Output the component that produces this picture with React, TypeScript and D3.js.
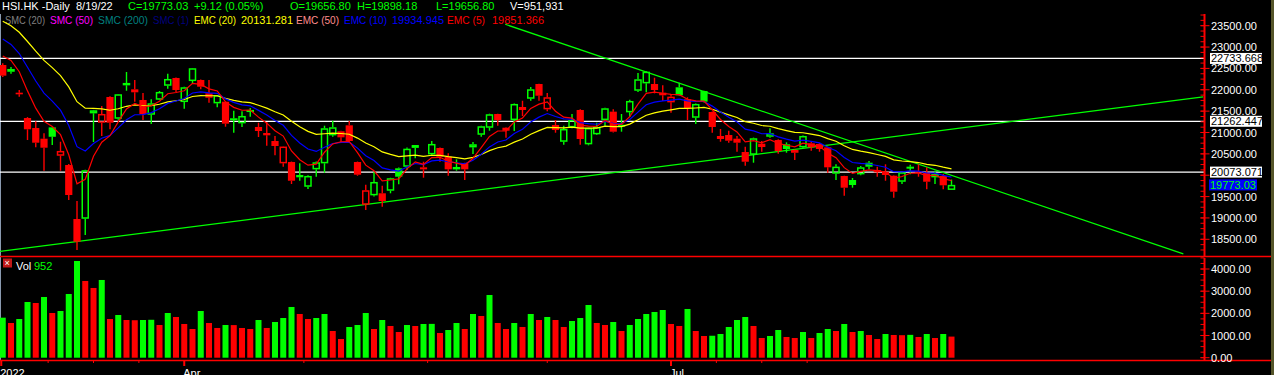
import React from 'react'
import * as d3 from 'd3'

const width = 1274
const height = 375
const GREEN = '#00ff00'
const RED = '#ff0000'
const FONT = '"Liberation Sans", Arial, sans-serif'

// daily HSI bars, 2 Mar 2022 .. 19 Aug 2022
const priorClose = 22761
const opens = [22580, 22423, 21932, 21339, 21105, 20855, 21120, 20457, 20239, 18975, 18982, 21449, 21229, 21831, 21323, 22105, 22011, 21761, 21417, 21768, 22095, 22276, 21714, 22205, 22229, 21917, 21683, 21721, 21309, 21215, 21480, 21129, 20988, 20801, 20279, 20309, 20005, 19731, 20138, 20279, 20934, 21028, 21168, 20309, 19310, 19530, 19577, 19638, 20162, 20199, 20707, 20185, 20489, 20637, 20433, 20138, 20279, 20653, 20948, 21112, 21433, 21112, 21292, 21597, 21791, 22135, 21543, 21175, 20784, 21121, 21527, 20724, 20958, 21292, 21488, 21150, 21473, 21978, 22151, 22135, 21932, 21707, 22058, 21777, 21346, 21971, 21480, 20918, 20941, 20855, 20543, 20480, 20738, 20902, 20824, 20724, 20527, 20653, 20747, 20731, 20653, 20036, 19982, 19888, 20021, 20293, 20122, 20082, 19988, 19848, 20176, 20099, 20059, 19951, 19982, 19656.8]
const highs = [22620, 22533, 21995, 21360, 21262, 20981, 21130, 20784, 20260, 19397, 20130, 21530, 21620, 21850, 21900, 22416, 22229, 21924, 21777, 21971, 22376, 22290, 22070, 22510, 22240, 22229, 21880, 21730, 21510, 21496, 21573, 21230, 21246, 20918, 20680, 20320, 20279, 20000, 20320, 21159, 21276, 21040, 21269, 20320, 19778, 20075, 19755, 19940, 20180, 20650, 20710, 20316, 20801, 20650, 20513, 20372, 20290, 20777, 21160, 21440, 21440, 21120, 21680, 21744, 22065, 22140, 21924, 21292, 21159, 21433, 21543, 21110, 21230, 21580, 21543, 21433, 21768, 22393, 22440, 22283, 22105, 21901, 22166, 21824, 21680, 21980, 21490, 21082, 21042, 20918, 20668, 20880, 20801, 21098, 20840, 20770, 20600, 20930, 20777, 20750, 20670, 20255, 19990, 19935, 20216, 20333, 20199, 20255, 20000, 20080, 20246, 20255, 20185, 20106, 20028, 19898.18]
const lows = [22300, 22376, 21838, 20824, 20653, 20106, 20707, 20106, 19420, 18249, 18600, 20777, 20918, 21075, 21300, 21978, 21721, 21292, 21199, 21761, 22025, 21948, 21557, 22142, 22011, 21697, 21589, 21136, 20995, 21129, 21370, 20895, 20691, 20466, 20199, 19794, 19871, 19677, 19966, 20059, 20900, 20777, 20790, 19988, 19186, 19500, 19263, 19577, 19788, 20122, 20400, 19942, 20460, 20316, 19988, 20106, 19888, 20497, 20902, 21042, 21159, 20878, 21035, 21386, 21744, 21744, 21496, 20995, 20715, 21100, 20715, 20700, 20940, 21159, 21000, 21019, 21370, 21950, 21941, 21917, 21737, 21463, 21860, 21292, 21199, 21700, 20995, 20784, 20761, 20550, 20222, 20293, 20550, 20880, 20500, 20527, 20356, 20630, 20574, 20550, 20059, 19888, 19520, 19708, 20000, 20138, 19965, 19871, 19473, 19794, 20021, 19965, 19670, 19794, 19670, 19656.8]
const closes = [22330, 22486, 21894, 21075, 20761, 20644, 20900, 20567, 19537, 18443, 20115, 21519, 21433, 21229, 21894, 22159, 21941, 21433, 21683, 21948, 22252, 21995, 22058, 22503, 22072, 21814, 21871, 21206, 21332, 21386, 21527, 21035, 20934, 20684, 20670, 19871, 19951, 19982, 20302, 21098, 21121, 20887, 20801, 20012, 19647, 19841, 19396, 19928, 19965, 20620, 20640, 20138, 20731, 20433, 20138, 20192, 20138, 20724, 21145, 21426, 21292, 21042, 21667, 21527, 22011, 21861, 21824, 21058, 21082, 21292, 20848, 21105, 21129, 21566, 21019, 21180, 21737, 22245, 22423, 21995, 21871, 21838, 21871, 21566, 21667, 21721, 21129, 20848, 20808, 20761, 20316, 20864, 20660, 20981, 20567, 20614, 20590, 20918, 20653, 20614, 20185, 20200, 19708, 19771, 20185, 20199, 20068, 20005, 19614, 20068, 20199, 20075, 19848, 20028, 19764, 19773.03]
const volumes = [1805, 1565, 1745, 2512, 2467, 2738, 2016, 2106, 2873, 4362, 3460, 3144, 3505, 1745, 1926, 1700, 1690, 1700, 1710, 1475, 2016, 1836, 1520, 1294, 2106, 1565, 1340, 1475, 1470, 1340, 1294, 1700, 1340, 1610, 1790, 2287, 1971, 1745, 1790, 1971, 1204, 843, 1385, 1475, 2016, 1294, 1700, 1430, 1159, 1475, 1430, 1520, 1525, 1114, 1249, 1565, 1294, 1971, 1881, 2828, 1565, 1294, 1565, 1385, 1971, 1700, 1836, 1700, 1385, 1655, 1790, 2377, 1565, 1475, 1610, 1204, 1475, 1745, 1971, 2061, 2151, 1520, 1430, 2197, 1204, 979, 990, 1069, 1385, 1700, 1836, 1430, 889, 979, 1249, 934, 889, 1159, 889, 1114, 1294, 1204, 1520, 1159, 1204, 1024, 843, 1069, 1024, 1015, 1030, 934, 1069, 889, 1069, 952]

// moving averages: periods and their value just before the first bar
const emaPeriods = [20, 10, 5]
const emaSeeds = [23740, 23381, 23020]

const priceLevels = [22733.668, 21262.447, 20073.071]
const lastPrice = 19773.03
const supportLine = [[-0.33, 18215], [145.5, 21835]]
const resistLine = [[60.9, 23533], [143.1, 18160]]

const priceTicks = d3.range(18500, 23501, 500)
const volTicks = [0, 1000, 2000, 3000, 4000]
const timeMinor = [5.5, 11, 16.5, 36.5, 51.5, 66, 86.5, 92, 97.5]
const timeMajor = [-0.18, 22, 81]
const timeLabels = ['2022', 'Apr', 'Jul']

function ema(values: number[], period: number, seed: number) {
  const k = 2 / (period + 1)
  let prev = seed
  return values.map((v) => {
    prev = prev + k * (v - prev)
    return prev
  })
}

const x = d3.scaleLinear().domain([0, 1]).range([2.75, 11])
const y = d3.scaleLinear().domain([18500, 23500]).range([239.3, 25.7])
const yv = d3.scaleLinear().domain([0, 4000]).range([357.7, 269])

const emaColors = ['#ffff00', '#0000ff', '#ff0000']

// header rows: text, x, colour, squeezed width (0 = natural)
const header1 = [
  ['HSI.HK -Daily', 2, '#fff', 0],
  ['8/19/22', 76, '#fff', 0],
  ['C=19773.03', 128, GREEN, 0],
  ['+9.12 (0.05%)', 194, GREEN, 0],
  ['O=19656.80', 290, GREEN, 0],
  ['H=19898.18', 357, GREEN, 0],
  ['L=19656.80', 436, GREEN, 0],
  ['V=951,931', 510, '#fff', 0],
]
const header2 = [
  ['SMC (20)', 5, '#808080', 40],
  ['SMC (50)', 50, '#ff00ff', 43],
  ['SMC (200)', 98, '#008080', 50],
  ['SMC (1)', 153, '#000080', 36],
  ['EMC (20)', 194, '#ffff00', 42],
  ['20131.281', 241, '#ffff00', 0],
  ['EMC (50)', 296, '#ff8c8c', 43],
  ['EMC (10)', 344, '#0000ff', 43],
  ['19934.945', 392, '#0000ff', 0],
  ['EMC (5)', 447, '#ff0000', 38],
  ['19851.366', 492, '#ff0000', 0],
]

export default function App() {
  const emaLines = emaPeriods.map((p, j) => {
    const vals = ema(closes, p, emaSeeds[j])
    const line = d3
      .line<number>()
      .x((d, i) => x(i))
      .y((d) => y(d))
    return line(vals)
  })

  const axisX = 1204.5
  const fmt = d3.format('.2f')
  // labels hidden behind a level box are not drawn
  const hidden = (v: number) => priceLevels.concat([lastPrice]).some((l) => Math.abs(y(l) - y(v)) < 5)

  const headerRow = (rows: (string | number)[][], ty: number) =>
    rows.map(([t, tx, c, w]) => (
      <text
        key={t as string}
        x={tx as number}
        y={ty}
        fill={c as string}
        textLength={w ? (w as number) : undefined}
        lengthAdjust={w ? 'spacingAndGlyphs' : undefined}
      >
        {t}
      </text>
    ))

  return (
    <svg
      width={width}
      height={height}
      style={{ position: 'absolute', left: 0, top: 0, background: '#000' }}
      fontFamily={FONT}
      fontSize={11}
    >
      <rect x={0} y={0} width={width} height={height} fill="#000" />
      <rect x={1271} y={0} width={3} height={height} fill="#55552a" />
      <line x1={0.5} x2={0.5} y1={14} y2={360} stroke="#8a9ab0" />

      {/* header */}
      <g>
        {headerRow(header1, 10)}
        {headerRow(header2, 24)}
      </g>

      {/* horizontal price levels */}
      {priceLevels.map((v) => (
        <line key={v} x1={0} x2={axisX} y1={y(v)} y2={y(v)} stroke="#fff" strokeWidth={1.3} />
      ))}

      {/* trend lines */}
      {[supportLine, resistLine].map((ln, i) => (
        <line
          key={i}
          x1={x(ln[0][0])}
          y1={y(ln[0][1])}
          x2={x(ln[1][0])}
          y2={y(ln[1][1])}
          stroke={GREEN}
          strokeWidth={1.2}
        />
      ))}

      {/* candles */}
      {opens.map((o, i) => {
        const c = closes[i]
        const prev = i === 0 ? priorClose : closes[i - 1]
        const col = c >= prev ? GREEN : RED
        const hollow = c > o
        const top = y(Math.max(o, c))
        const bot = y(Math.min(o, c))
        const cx = x(i)
        return (
          <g key={i}>
            <line x1={cx} x2={cx} y1={y(highs[i])} y2={top} stroke={col} strokeWidth={1.4} />
            <line x1={cx} x2={cx} y1={bot} y2={y(lows[i])} stroke={col} strokeWidth={1.4} />
            {hollow ? (
              <rect
                x={cx - 3}
                y={top + 0.7}
                width={6}
                height={Math.max(bot - top - 1.4, 0.5)}
                fill="none"
                stroke={col}
                strokeWidth={1.5}
              />
            ) : (
              <rect x={cx - 3.6} y={top} width={7.2} height={Math.max(bot - top, 1.5)} fill={col} />
            )}
          </g>
        )
      })}

      {/* moving averages */}
      {emaLines.map((d, j) => (
        <path key={j} d={d || ''} fill="none" stroke={emaColors[j]} strokeWidth={1.2} />
      ))}

      {/* volume */}
      {volumes.map((v, i) => {
        const up = i === 0 || v > volumes[i - 1]
        return (
          <rect
            key={i}
            x={x(i) - 3}
            y={yv(v)}
            width={6}
            height={yv(0) - yv(v)}
            fill={up ? GREEN : RED}
          />
        )
      })}
      <rect x={3} y={258.5} width={9} height={9} fill="#c01818" />
      <text x={4.5} y={266} fontSize={9} fill="#fff">×</text>
      <text x={16} y={270} fill="#fff">Vol</text>
      <text x={34} y={270} fill={GREEN}>{d3.format('d')(volumes[volumes.length - 1])}</text>

      {/* panel frames */}
      <line x1={0} x2={1271} y1={256.5} y2={256.5} stroke={RED} strokeWidth={1.5} />
      <line x1={0} x2={1271} y1={360.5} y2={360.5} stroke={RED} strokeWidth={1.5} />
      <line x1={axisX} x2={axisX} y1={14} y2={256} stroke={RED} strokeWidth={2} />
      <line x1={axisX} x2={axisX} y1={258} y2={360} stroke={RED} strokeWidth={2} />

      {/* price axis */}
      {d3.range(18250, 23751, 125).map((v) => (
        <line key={v} x1={axisX - 4} x2={axisX} y1={y(v)} y2={y(v)} stroke={RED} />
      ))}
      {priceTicks.map((v) => (
        <g key={v}>
          <line x1={axisX - 4} x2={axisX + 5} y1={y(v)} y2={y(v)} stroke={RED} />
          {!hidden(v) && (
            <text x={1211} y={y(v) + 4} fill="#fff">{fmt(v)}</text>
          )}
        </g>
      ))}
      {priceLevels.map((v) => (
        <g key={v}>
          <rect x={1210} y={y(v) - 5.5} width={52} height={11} fill="#fff" />
          <text x={1211} y={y(v) + 4} fill="#000">{d3.format('.3f')(v)}</text>
        </g>
      ))}
      <rect x={1209} y={y(lastPrice) - 5.5} width={48} height={11} fill="#0000ff" />
      <text x={1210} y={y(lastPrice) + 4} fill={GREEN}>{fmt(lastPrice)}</text>

      {/* volume axis */}
      {d3.range(0, 4501, 250).map((v) => (
        <line key={v} x1={axisX - 4} x2={axisX} y1={yv(v)} y2={yv(v)} stroke={RED} />
      ))}
      {volTicks.map((v) => (
        <g key={v}>
          <line x1={axisX - 4} x2={axisX + 5} y1={yv(v)} y2={yv(v)} stroke={RED} />
          <text x={1211} y={yv(v) + 4} fill="#fff">{fmt(v)}</text>
        </g>
      ))}

      {/* time axis */}
      {timeMinor.map((t) => (
        <line key={t} x1={x(t)} x2={x(t)} y1={361} y2={363} stroke={RED} />
      ))}
      {timeMajor.map((t, i) => (
        <g key={t}>
          <rect x={x(t) - 1} y={361} width={2} height={5} fill={RED} />
          <text x={x(t) - 1} y={377} fill="#fff">{timeLabels[i]}</text>
        </g>
      ))}
    </svg>
  )
}
